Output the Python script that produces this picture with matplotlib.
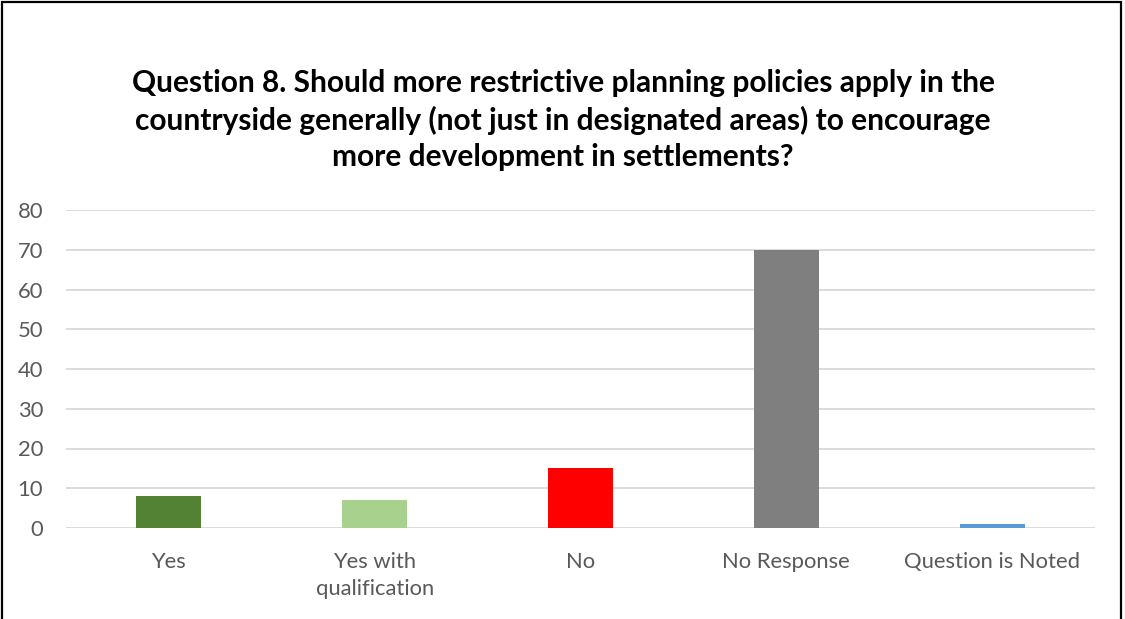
import matplotlib
matplotlib.use("Agg")
import matplotlib.pyplot as plt
from matplotlib.patches import Rectangle

categories = ["Yes", "Yes with\nqualification", "No", "No Response", "Question is Noted"]
values = [8, 7, 15, 70, 1]
colors = ["#548235", "#A9D18E", "#FF0000", "#7F7F7F", "#5B9BD5"]
yticks = [0, 10, 20, 30, 40, 50, 60, 70, 80]
title = ("Question 8. Should more restrictive planning policies apply in the\n"
         "countryside generally (not just in designated areas) to encourage\n"
         "more development in settlements?")

plt.rcParams['font.family'] = ['Lato', 'DejaVu Sans']

W, H = 1125, 619
fig = plt.figure(figsize=(W / 100, H / 100), dpi=100)
ax = fig.add_axes([66 / W, 1 - 528 / H, (1095 - 66) / W, (528 - 210) / H])

x = list(range(len(categories)))
ax.bar(x, values, width=0.316, color=colors, zorder=3)
ax.set_xlim(-0.5, len(categories) - 0.5)
ax.set_ylim(0, 80)
ax.set_yticks(yticks)
ax.set_xticks(x)
ax.set_xticklabels(categories, fontsize=15.8, color="#595959", linespacing=1.45)
ax.tick_params(axis='y', labelsize=15.8, labelcolor="#595959", length=0, pad=16.5)
ax.tick_params(axis='x', length=0, pad=17)
ax.grid(axis='y', color="#D9D9D9", linewidth=1.3, zorder=0)
for s in ax.spines.values():
    s.set_visible(False)

fig.text(563 / W, 1 - 120 / H, title, ha='center', va='center', fontsize=21.5,
         fontweight='bold', color="#000000", linespacing=1.37)

fig.patches.append(Rectangle((2 / W, -0.01), (1121 - 2) / W, 1.01 - 1.5 / H,
                             transform=fig.transFigure, fill=False,
                             edgecolor="#000000", linewidth=1.6))

fig.savefig("out.png", dpi=100)
